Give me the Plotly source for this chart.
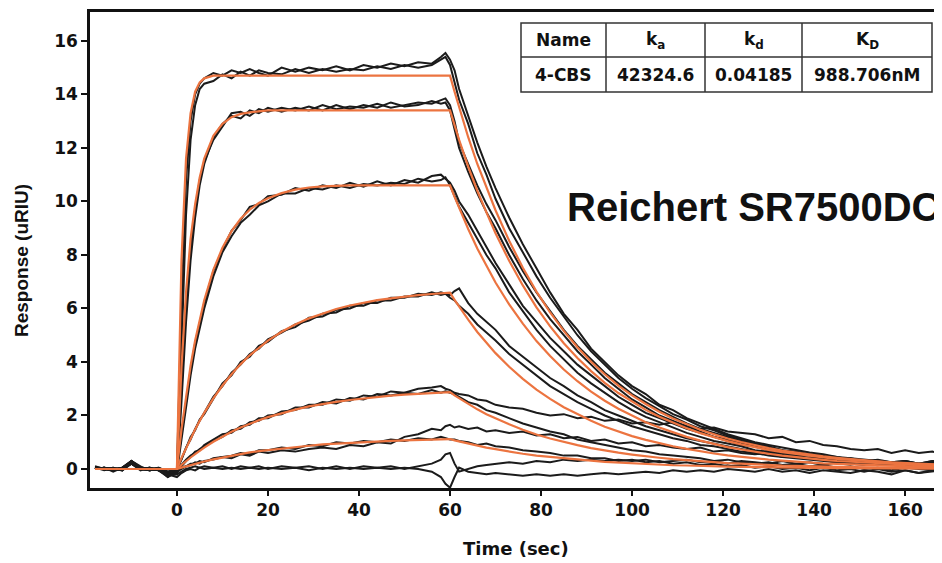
import plotly.graph_objects as go

# ---------------- data ----------------
T = [-18, -16, -14, -12, -10, -8, -6, -4, -2, 0,
     1, 2, 3, 4, 5, 6,
     8, 10, 12, 14, 16, 18, 20,
     23, 26, 29, 32, 35, 38, 41, 44, 47, 50, 53, 56,
     58, 59, 60, 61, 62, 64, 66, 68, 70,
     73, 76, 79, 82, 85, 88, 91, 94, 97, 100, 103, 106, 109, 112, 115, 118,
     121, 124, 127, 130, 133, 136, 139, 142, 145, 148, 151, 154, 157, 160, 163, 166, 168]

# measured sensorgrams (black)
A1 = [0.08, 0.02, -0.05, 0.05, 0.3, 0.0, -0.05, 0.02, -0.15, 0.0,
      6.0, 10.8, 13.0, 14.0, 14.4, 14.6,
      14.8, 14.7, 14.9, 14.8, 14.95, 14.8, 14.7,
      15.0, 14.85, 15.0, 14.9, 15.05, 14.9, 15.1, 15.0, 15.15, 15.05, 15.2, 15.15,
      15.4, 15.55, 15.3, 14.9, 14.2, 13.2, 12.2, 11.3, 10.5,
      9.4, 8.4, 7.5, 6.6, 5.8, 5.2, 4.5, 4.0, 3.5, 3.1, 2.8, 2.4, 2.2, 1.9, 1.7, 1.5,
      1.3, 1.15, 1.0, 0.9, 0.8, 0.7, 0.62, 0.55, 0.45, 0.4, 0.35, 0.3, 0.25, 0.3, 0.2, 0.25, 0.2]
A2 = [0.05, -0.05, 0.02, 0.0, 0.25, 0.05, 0.0, -0.05, -0.25, -0.1,
      4.5, 9.5, 12.3, 13.6, 14.2, 14.4,
      14.5, 14.75, 14.6, 14.85, 14.7, 14.9, 14.8,
      14.75, 14.95, 14.8, 14.95, 14.85, 14.95, 14.9, 15.05, 14.95, 15.1, 15.0, 15.1,
      15.3, 15.4, 15.1, 14.5, 13.8, 12.9, 11.8, 11.0, 10.1,
      9.0, 8.1, 7.2, 6.4, 5.7, 5.0, 4.4, 3.9, 3.4, 3.0, 2.65, 2.35, 2.05, 1.85, 1.6, 1.45,
      1.25, 1.1, 0.95, 0.85, 0.7, 0.65, 0.55, 0.5, 0.45, 0.35, 0.3, 0.3, 0.2, 0.25, 0.15, 0.2, 0.1]
B1 = [0.1, 0.0, -0.05, 0.0, 0.3, 0.1, -0.05, 0.0, -0.2, -0.15,
      2.5, 5.5, 7.8, 9.4, 10.6, 11.4,
      12.4, 12.9, 13.2, 13.1, 13.4, 13.3, 13.5,
      13.35, 13.5, 13.4, 13.6, 13.45, 13.55, 13.5, 13.65, 13.5, 13.6, 13.7, 13.65,
      13.8, 13.85, 13.6, 13.0, 12.2, 11.4, 10.6, 9.9, 9.3,
      8.3, 7.4, 6.6, 5.9, 5.2, 4.6, 4.1, 3.6, 3.2, 2.8, 2.5, 2.2, 1.95, 1.7, 1.5, 1.35,
      1.2, 1.05, 0.9, 0.8, 0.7, 0.6, 0.55, 0.45, 0.4, 0.35, 0.3, 0.25, 0.2, 0.25, 0.15, 0.1, 0.15]
B2 = [0.0, 0.05, -0.1, 0.05, 0.2, -0.05, 0.05, -0.05, -0.3, -0.05,
      3.0, 6.0, 8.2, 9.7, 10.8, 11.5,
      12.3, 12.8, 13.3, 13.35, 13.2, 13.45, 13.35,
      13.5, 13.4, 13.55, 13.4, 13.6, 13.45, 13.6, 13.5, 13.7, 13.55, 13.6, 13.75,
      13.65, 13.7, 13.4, 12.7, 12.0, 11.1, 10.3, 9.6, 9.0,
      8.0, 7.1, 6.3, 5.6, 5.0, 4.4, 3.9, 3.4, 3.0, 2.6, 2.3, 2.0, 1.8, 1.6, 1.4, 1.2,
      1.1, 0.95, 0.85, 0.7, 0.65, 0.55, 0.5, 0.4, 0.35, 0.3, 0.3, 0.2, 0.25, 0.15, 0.2, 0.1, 0.1]
C1 = [0.05, 0.0, 0.05, -0.05, 0.2, 0.05, 0.0, 0.05, -0.1, 0.0,
      1.3, 2.6, 3.7, 4.7, 5.5, 6.2,
      7.4, 8.2, 8.9, 9.3, 9.8, 9.9, 10.2,
      10.25, 10.5, 10.4, 10.6, 10.5, 10.7, 10.55, 10.75, 10.6, 10.8, 10.7, 10.95,
      11.0, 10.85, 10.7, 10.4, 10.0, 9.5, 8.9, 8.3, 7.7,
      6.9, 6.1, 5.5, 4.9, 4.4, 3.9, 3.5, 3.1, 2.7, 2.4, 2.1, 1.9, 1.7, 1.5, 1.35, 1.2,
      1.05, 0.9, 0.85, 0.7, 0.6, 0.55, 0.5, 0.4, 0.35, 0.3, 0.25, 0.3, 0.2, 0.15, 0.2, 0.1, 0.15]
C2 = [0.0, 0.05, 0.0, 0.05, 0.25, 0.0, -0.05, 0.0, -0.2, -0.1,
      1.1, 2.4, 3.5, 4.5, 5.3, 6.0,
      7.2, 8.1, 8.7, 9.2, 9.5, 9.85, 10.0,
      10.3, 10.3, 10.5, 10.45, 10.6, 10.5, 10.65, 10.6, 10.7, 10.65, 10.85, 10.75,
      10.8, 10.9, 10.6, 10.2, 9.8, 9.2, 8.6, 8.0, 7.5,
      6.6, 5.9, 5.2, 4.6, 4.1, 3.6, 3.2, 2.85, 2.5, 2.2, 1.95, 1.75, 1.55, 1.35, 1.2, 1.05,
      0.95, 0.85, 0.7, 0.65, 0.55, 0.5, 0.4, 0.35, 0.3, 0.25, 0.3, 0.2, 0.15, 0.2, 0.1, 0.15, 0.05]
D1 = [0.05, 0.0, -0.05, 0.05, 0.2, 0.0, 0.05, -0.05, -0.2, -0.05,
      0.4, 0.8, 1.1, 1.5, 1.8, 2.1,
      2.7, 3.1, 3.6, 3.9, 4.3, 4.5, 4.85,
      5.1, 5.4, 5.55, 5.8, 5.85, 6.1, 6.1, 6.3, 6.3, 6.45, 6.45, 6.6,
      6.5, 6.55, 6.5, 6.65, 6.75, 6.2, 5.8, 5.5, 5.2,
      4.6, 4.2, 3.8, 3.4, 3.1, 2.75, 2.5, 2.2, 2.0, 1.8, 1.6, 1.45, 1.3, 1.15, 1.05, 0.95,
      0.85, 0.75, 0.65, 0.6, 0.5, 0.45, 0.4, 0.35, 0.3, 0.3, 0.2, 0.25, 0.15, 0.2, 0.1, 0.15, 0.1]
D2 = [0.0, 0.05, 0.0, 0.0, 0.3, 0.05, 0.0, 0.0, -0.15, 0.0,
      0.35, 0.75, 1.2, 1.45, 1.85, 2.05,
      2.6, 3.2, 3.5, 4.0, 4.2, 4.6, 4.75,
      5.15, 5.3, 5.65, 5.7, 5.95, 6.0, 6.2, 6.2, 6.4, 6.4, 6.55, 6.5,
      6.6, 6.55, 6.4, 6.3, 6.1, 5.8, 5.4, 5.1, 4.8,
      4.3, 3.9, 3.5, 3.1, 2.8, 2.5, 2.25, 2.0, 1.8, 1.6, 1.45, 1.3, 1.15, 1.05, 0.9, 0.85,
      0.75, 0.65, 0.6, 0.5, 0.45, 0.4, 0.35, 0.3, 0.25, 0.3, 0.2, 0.15, 0.2, 0.1, 0.15, 0.05, 0.1]
E1 = [0.05, 0.0, 0.05, -0.05, 0.25, 0.05, -0.05, 0.0, -0.2, -0.05,
      0.15, 0.35, 0.5, 0.6, 0.75, 0.85,
      1.05, 1.2, 1.45, 1.5, 1.75, 1.8, 2.0,
      2.05, 2.3, 2.3, 2.5, 2.45, 2.65, 2.6, 2.8, 2.75, 2.85, 2.8, 2.95,
      2.85, 2.9, 2.85, 2.8, 2.7, 2.5, 2.4, 2.2, 2.1,
      1.9, 1.7, 1.55, 1.4, 1.3, 1.1, 1.0, 0.9, 0.8, 0.7, 0.65, 0.55, 0.5, 0.45, 0.4, 0.3,
      0.35, 0.25, 0.2, 0.25, 0.15, 0.2, 0.1, 0.15, 0.05, 0.1, 0.0, 0.05, -0.05, 0.05, 0.0, -0.05, 0.05]
E2 = [0.0, 0.05, -0.05, 0.0, 0.2, 0.0, 0.05, -0.05, -0.25, -0.15,
      0.1, 0.3, 0.45, 0.65, 0.7, 0.9,
      1.1, 1.3, 1.35, 1.6, 1.65, 1.9, 1.9,
      2.15, 2.2, 2.4, 2.4, 2.6, 2.55, 2.75, 2.7, 2.9, 2.85, 3.0, 3.05,
      3.1, 3.0, 2.95, 2.85, 2.8, 2.75, 2.6, 2.55, 2.4,
      2.3, 2.25, 2.1, 2.0, 2.05, 1.9, 1.95, 1.8, 1.85, 1.7, 1.75, 1.65, 1.75, 1.6, 1.5, 1.55,
      1.4, 1.35, 1.3, 1.15, 1.2, 1.0, 1.05, 0.9, 0.85, 0.75, 0.7, 0.75, 0.6, 0.7, 0.6, 0.65, 0.55]
F1 = [0.05, 0.0, 0.0, 0.05, 0.3, 0.0, 0.0, 0.05, -0.1, 0.0,
      0.05, 0.1, 0.2, 0.2, 0.3, 0.25,
      0.4, 0.45, 0.5, 0.6, 0.55, 0.7, 0.7,
      0.8, 0.75, 0.9, 0.85, 1.0, 0.95, 1.05, 1.0, 1.1, 1.05, 1.15, 1.1,
      1.2, 1.15, 1.1, 1.1, 1.05, 1.0, 0.9, 0.95, 0.85,
      0.8, 0.7, 0.65, 0.6, 0.5, 0.5, 0.4, 0.4, 0.3, 0.35, 0.25, 0.3, 0.2, 0.25, 0.15, 0.2,
      0.1, 0.15, 0.05, 0.1, 0.0, 0.05, -0.05, 0.05, -0.05, 0.0, -0.1, 0.0, -0.1, -0.05, -0.15, -0.05, -0.1]
F2 = [0.0, 0.05, -0.05, 0.0, 0.25, 0.05, -0.05, 0.0, -0.3, -0.1,
      0.0, 0.1, 0.15, 0.25, 0.2, 0.3,
      0.35, 0.45, 0.4, 0.55, 0.5, 0.65, 0.6,
      0.7, 0.65, 0.75, 0.8, 0.75, 0.9, 0.85, 1.0, 0.95, 1.2, 1.3, 1.5,
      1.45, 1.6, 1.65, 1.55, 1.6, 1.5, 1.55, 1.4, 1.45,
      1.35, 1.4, 1.25, 1.3, 1.15, 1.2, 1.05, 1.1, 0.95, 1.0, 0.85, 0.9, 0.8, 0.75, 0.8, 0.65,
      0.7, 0.6, 0.55, 0.6, 0.45, 0.5, 0.4, 0.45, 0.35, 0.4, 0.3, 0.35, 0.25, 0.3, 0.2, 0.3, 0.25]
G1 = [0.05, 0.0, -0.05, 0.0, 0.2, 0.0, -0.05, 0.0, -0.25, -0.2,
      -0.1, 0.0, 0.05, 0.1, 0.05, 0.1,
      0.05, 0.1, 0.0, 0.1, 0.05, 0.1, 0.0,
      0.1, 0.05, 0.1, 0.0, 0.1, 0.0, 0.1, 0.05, 0.1, 0.0, 0.1, 0.2,
      0.35, 0.55, 0.6, 0.2, -0.1, 0.0, 0.1, 0.15, 0.2,
      0.25, 0.2, 0.3, 0.25, 0.35, 0.3, 0.35, 0.3, 0.35, 0.3, 0.35, 0.25, 0.3, 0.35, 0.25, 0.3,
      0.2, 0.3, 0.25, 0.2, 0.3, 0.2, 0.25, 0.15, 0.25, 0.2, 0.15, 0.25, 0.2, 0.3, 0.2, 0.3, 0.25]
G2 = [0.0, 0.05, 0.0, -0.05, 0.3, 0.05, 0.0, -0.05, -0.2, -0.3,
      -0.15, -0.05, 0.0, -0.05, 0.05, 0.0,
      0.05, 0.0, 0.05, 0.0, 0.05, 0.0, 0.05,
      0.0, 0.05, -0.05, 0.05, 0.0, 0.05, 0.0, 0.05, 0.0, 0.05, 0.0, -0.1,
      -0.3, -0.55, -0.7, -0.3, 0.05, -0.1, -0.15, -0.2, -0.15,
      -0.2, -0.25, -0.2, -0.25, -0.2, -0.25, -0.2, -0.15, -0.2, -0.15, -0.1, -0.15, -0.05, -0.1, -0.05, -0.1,
      0.0, -0.05, -0.1, 0.0, -0.1, -0.05, -0.15, -0.05, -0.1, -0.15, -0.05, -0.1, -0.2, -0.05, -0.15, -0.1, -0.05]

# fitted curves (orange)
FA = [0, 0, 0, 0, 0, 0, 0, 0, 0, 0,
      7.8, 11.6, 13.3, 14.1, 14.45, 14.6,
      14.7, 14.7, 14.7, 14.7, 14.7, 14.7, 14.7,
      14.7, 14.7, 14.7, 14.7, 14.7, 14.7, 14.7, 14.7, 14.7, 14.7, 14.7, 14.7,
      14.7, 14.7, 14.7, 14.1, 13.5, 12.4, 11.4, 10.5, 9.67,
      8.53, 7.52, 6.63, 5.85, 5.16, 4.55, 4.01, 3.54, 3.12, 2.75, 2.43, 2.14, 1.89, 1.67, 1.47, 1.30,
      1.14, 1.01, 0.89, 0.78, 0.69, 0.61, 0.54, 0.47, 0.42, 0.37, 0.33, 0.29, 0.25, 0.22, 0.20, 0.18, 0.16]
FB = [0, 0, 0, 0, 0, 0, 0, 0, 0, 0,
      3.8, 6.6, 8.6, 9.9, 10.9, 11.6,
      12.45, 12.9, 13.15, 13.27, 13.33, 13.37, 13.4,
      13.4, 13.4, 13.4, 13.4, 13.4, 13.4, 13.4, 13.4, 13.4, 13.4, 13.4, 13.4,
      13.4, 13.4, 13.4, 12.85, 12.3, 11.3, 10.4, 9.59, 8.81,
      7.78, 6.86, 6.04, 5.33, 4.70, 4.15, 3.66, 3.22, 2.84, 2.51, 2.21, 1.95, 1.72, 1.52, 1.34, 1.18,
      1.04, 0.92, 0.81, 0.71, 0.63, 0.56, 0.49, 0.43, 0.38, 0.34, 0.30, 0.26, 0.23, 0.20, 0.18, 0.16, 0.15]
FC = [0, 0, 0, 0, 0, 0, 0, 0, 0, 0,
      1.48, 2.76, 3.86, 4.80, 5.62, 6.31,
      7.44, 8.27, 8.89, 9.35, 9.69, 9.94, 10.12,
      10.31, 10.44, 10.52, 10.56, 10.59, 10.6, 10.6, 10.6, 10.6, 10.6, 10.6, 10.6,
      10.6, 10.6, 10.6, 10.17, 9.75, 8.97, 8.24, 7.58, 6.97,
      6.15, 5.43, 4.78, 4.22, 3.72, 3.28, 2.89, 2.55, 2.25, 1.99, 1.75, 1.55, 1.36, 1.20, 1.06, 0.94,
      0.82, 0.73, 0.64, 0.57, 0.50, 0.44, 0.39, 0.34, 0.30, 0.27, 0.24, 0.21, 0.18, 0.16, 0.14, 0.13, 0.12]
FD = [0, 0, 0, 0, 0, 0, 0, 0, 0, 0,
      0.41, 0.78, 1.15, 1.48, 1.80, 2.10,
      2.64, 3.12, 3.54, 3.92, 4.25, 4.54, 4.80,
      5.13, 5.40, 5.63, 5.82, 5.98, 6.11, 6.22, 6.31, 6.38, 6.45, 6.50, 6.54,
      6.57, 6.58, 6.59, 6.32, 6.06, 5.58, 5.12, 4.71, 4.33,
      3.82, 3.37, 2.97, 2.62, 2.31, 2.04, 1.80, 1.58, 1.40, 1.23, 1.09, 0.96, 0.85, 0.75, 0.66, 0.58,
      0.51, 0.45, 0.40, 0.35, 0.31, 0.27, 0.24, 0.21, 0.19, 0.17, 0.15, 0.13, 0.11, 0.10, 0.09, 0.08, 0.07]
FE = [0, 0, 0, 0, 0, 0, 0, 0, 0, 0,
      0.15, 0.30, 0.43, 0.56, 0.69, 0.80,
      1.02, 1.22, 1.39, 1.55, 1.69, 1.82, 1.94,
      2.09, 2.22, 2.34, 2.43, 2.51, 2.58, 2.64, 2.70, 2.74, 2.78, 2.81, 2.84,
      2.85, 2.86, 2.87, 2.75, 2.64, 2.43, 2.23, 2.05, 1.89,
      1.67, 1.47, 1.29, 1.14, 1.01, 0.89, 0.78, 0.69, 0.61, 0.54, 0.47, 0.42, 0.37, 0.33, 0.29, 0.25,
      0.22, 0.20, 0.17, 0.15, 0.13, 0.12, 0.10, 0.09, 0.08, 0.07, 0.06, 0.06, 0.05, 0.04, 0.04, 0.04, 0.03]
FF = [0, 0, 0, 0, 0, 0, 0, 0, 0, 0,
      0.05, 0.10, 0.15, 0.20, 0.24, 0.28,
      0.36, 0.43, 0.50, 0.56, 0.62, 0.67, 0.71,
      0.77, 0.83, 0.87, 0.92, 0.95, 0.98, 1.01, 1.03, 1.05, 1.07, 1.09, 1.10,
      1.11, 1.11, 1.12, 1.07, 1.03, 0.95, 0.87, 0.80, 0.74,
      0.65, 0.57, 0.50, 0.45, 0.39, 0.35, 0.31, 0.27, 0.24, 0.21, 0.18, 0.16, 0.14, 0.13, 0.11, 0.10,
      0.09, 0.08, 0.07, 0.06, 0.05, 0.05, 0.04, 0.04, 0.03, 0.03, 0.03, 0.02, 0.02, 0.02, 0.02, 0.01, 0.01]

MEASURED = [A1, A2, B1, B2, C1, C2, D1, D2, E1, E2, F1, F2, G1, G2]
FITS = [FA, FB, FC, FD, FE, FF]

X_TICKS = [0, 20, 40, 60, 80, 100, 120, 140, 160]
Y_TICKS = [0, 2, 4, 6, 8, 10, 12, 14, 16]

TABLE_HEAD = ["Name", "k<sub>a</sub>", "k<sub>d</sub>", "K<sub>D</sub>"]
TABLE_ROW = ["4-CBS", "42324.6", "0.04185", "988.706nM"]

# ---------------- figure ----------------
# The page body has an 8px margin, so the figure is laid out in page pixels minus 8.
OFF = 8
W, H = 942 - OFF, 563 - OFF
L, R, TOP, BOT = 90 - OFF, 0, 12 - OFF, 563 - 488
PW, PH = W - L - R, H - TOP - BOT


def px(x):  # page pixel x -> paper
    return (x - OFF - L) / PW


def py(y):  # page pixel y -> paper
    return (H - BOT - (y - OFF)) / PH


fig = go.Figure()
for ys in MEASURED:
    fig.add_trace(go.Scatter(x=T, y=ys, mode="lines",
                             line=dict(color="#1b1b1b", width=2.0),
                             showlegend=False, hoverinfo="skip"))
for ys in FITS:
    fig.add_trace(go.Scatter(x=T, y=ys, mode="lines",
                             line=dict(color="#ec7440", width=2.2),
                             showlegend=False, hoverinfo="skip"))

tick_font = dict(family="DejaVu Sans", size=17, color="#111", weight="bold")
fig.update_xaxes(range=[-19.1, 168.1], tickvals=X_TICKS, ticks="outside", ticklen=5,
                 tickwidth=2, tickcolor="#111", showline=True, linewidth=2.5,
                 linecolor="#111", mirror=True, showgrid=False, zeroline=False,
                 tickfont=tick_font)
fig.update_yaxes(range=[-0.71, 17.08], tickvals=Y_TICKS, ticks="outside", ticklen=6,
                 tickwidth=2, tickcolor="#111", showline=True, linewidth=2.5,
                 linecolor="#111", mirror=False, showgrid=False, zeroline=False,
                 tickfont=tick_font)

shapes = []
tx0, tx1, ty0, ty1 = 521, 932, 23, 92
shapes.append(dict(type="rect", xref="paper", yref="paper",
                   x0=px(tx0), x1=px(tx1), y0=py(ty1), y1=py(ty0),
                   line=dict(color="#333", width=1.5), fillcolor="white", layer="above"))
for cx in [606, 705, 802]:
    shapes.append(dict(type="line", xref="paper", yref="paper",
                       x0=px(cx), x1=px(cx), y0=py(ty1), y1=py(ty0),
                       line=dict(color="#333", width=1.5), layer="above"))
shapes.append(dict(type="line", xref="paper", yref="paper",
                   x0=px(tx0), x1=px(tx1), y0=py(57), y1=py(57),
                   line=dict(color="#333", width=1.5), layer="above"))

annotations = []
col_centers = [563.5, 655.5, 753.5, 867]
table_font = dict(family="DejaVu Sans", size=17, color="#111", weight="bold")
for c, h_txt, r_txt in zip(col_centers, TABLE_HEAD, TABLE_ROW):
    annotations.append(dict(xref="paper", yref="paper", x=px(c), y=py(40), text=h_txt,
                            showarrow=False, xanchor="center", yanchor="middle", font=table_font))
    annotations.append(dict(xref="paper", yref="paper", x=px(c), y=py(75), text=r_txt,
                            showarrow=False, xanchor="center", yanchor="middle", font=table_font))

annotations.append(dict(xref="paper", yref="paper", x=px(565), y=py(207),
                        text="Reichert SR7500DC", showarrow=False, xanchor="left",
                        yanchor="middle",
                        font=dict(family="Liberation Sans", size=40, color="#111", weight="bold")))
annotations.append(dict(xref="paper", yref="paper", x=px(516), y=py(548),
                        text="Time (sec)", showarrow=False, xanchor="center", yanchor="middle",
                        font=dict(family="DejaVu Sans", size=18, color="#111", weight="bold")))
annotations.append(dict(xref="paper", yref="paper", x=px(22), y=py(261),
                        text="Response (uRIU)", showarrow=False, xanchor="center",
                        yanchor="middle", textangle=-90,
                        font=dict(family="Liberation Sans", size=19, color="#111", weight="bold")))

fig.update_layout(width=W, height=H, margin=dict(l=L, r=R, t=TOP, b=BOT, pad=0),
                  plot_bgcolor="white", paper_bgcolor="white",
                  shapes=shapes, annotations=annotations, showlegend=False)

fig.write_html("out.html")
